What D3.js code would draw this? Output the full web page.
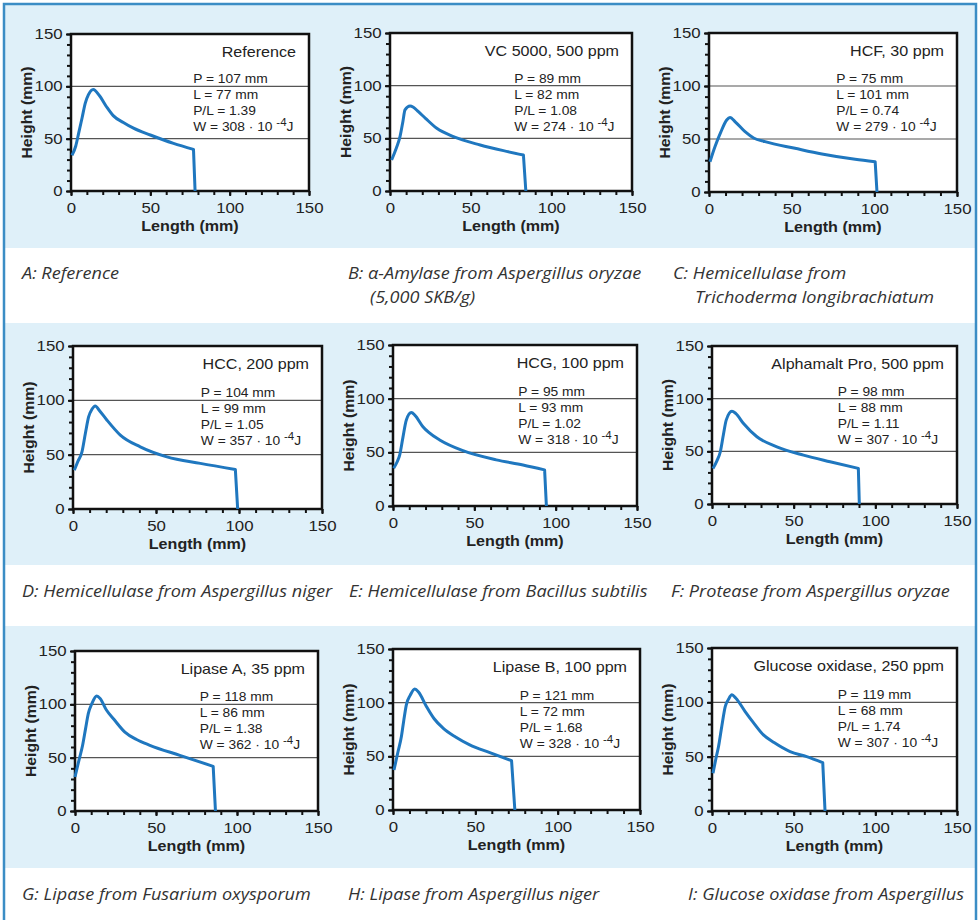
<!DOCTYPE html>
<html>
<head>
<meta charset="utf-8">
<script src="https://cdn.jsdelivr.net/npm/d3@7"></script>
<style>
  body { margin: 0; background: #fff; }
</style>
</head>
<body>
<div id="chart-area"></div>
<script>
// data
var panelLabels = ["Reference", "VC 5000, 500 ppm", "HCF, 30 ppm",
                   "HCC, 200 ppm", "HCG, 100 ppm", "Alphamalt Pro, 500 ppm",
                   "Lipase A, 35 ppm", "Lipase B, 100 ppm", "Glucose oxidase, 250 ppm"]
var captions = [
  ["A: Reference"],
  ["B: \u03B1-Amylase from Aspergillus oryzae", "(5,000 SKB/g)"],
  ["C: Hemicellulase from", "Trichoderma longibrachiatum"],
  ["D: Hemicellulase from Aspergillus niger"],
  ["E: Hemicellulase from Bacillus subtilis"],
  ["F: Protease from Aspergillus oryzae"],
  ["G: Lipase from Fusarium oxysporum"],
  ["H: Lipase from Aspergillus niger"],
  ["I: Glucose oxidase from Aspergillus"]
]
var statP  = [107, 89, 75, 104, 95, 98, 118, 121, 119]
var statL  = [77, 82, 101, 99, 93, 88, 86, 72, 68]
var statPL = ["1.39", "1.08", "0.74", "1.05", "1.02", "1.11", "1.38", "1.68", "1.74"]
var statW  = [308, 274, 279, 357, 318, 307, 362, 328, 307]

var xTicks = [0, 50, 100, 150]
var yTicks = [0, 50, 100, 150]
var gridValues = [50, 100]

// curves: [length mm, height mm]
var curveA = [[0.6,34],[3,43],[4.8,55],[7,70],[9,84],[11,92],[14,97],[18,91],[22.6,80],[26.6,72],[33,65.5],[39.4,60],[50,53.5],[64.6,45.5],[77.2,39.8],[78.2,0]]
var curveB = [[1,29.4],[4,41],[6.2,51.6],[8,66],[9.3,77],[12.4,80.7],[14.5,79.5],[17.6,75.3],[22,69],[29,59.5],[39.3,51.6],[55.9,43.7],[70.3,38.3],[82.7,34.2],[84.2,0]]
var curveC = [[0.6,28.6],[3.6,42.7],[7,56],[10.7,67.9],[12.7,70.4],[16,66],[21.8,56.9],[27,51],[33.9,47.5],[52,41.2],[68.3,35.8],[88.4,30.8],[100.5,28.6],[101.6,0]]
var curveD = [[0.8,35.8],[3,44],[5.4,52.6],[7.5,70],[9.4,84.8],[11.5,92],[13.4,94.9],[16,90.5],[20.5,81.7],[28.5,68],[40.5,57.2],[56.6,48],[76.7,42],[97.8,36.4],[99.2,0]]
var curveE = [[0.4,35.1],[2.5,41],[4.1,47.5],[6,63],[8.2,80.1],[11.3,87],[13.5,84.5],[18.4,73.9],[22,68.5],[28.7,61.5],[43,51.5],[63.5,43],[79.9,38.2],[93.2,33.6],[94.3,0]]
var curveF = [[0.6,33.8],[3,41],[5.1,49.6],[7,66],[8.7,79.6],[12.2,88.1],[14.5,86],[19.3,76.4],[27.5,63.8],[39.7,54.3],[56,46.4],[72.3,40.1],[89.6,33.8],[90.2,0]]
var curveG = [[0,31.9],[2.5,48],[4.7,61.6],[6.5,77],[8.2,91.3],[10.5,101],[13.4,107.8],[15.5,105.5],[19.5,94.4],[24,86],[30.8,74],[38,67],[46.2,61.6],[64.7,52.2],[85.3,41.9],[86.7,0]]
var curveH = [[0.6,37.3],[3,54],[5.1,68.4],[6.5,83],[8.1,98],[10.5,107],[13.2,112.7],[15.5,110],[20.3,96.5],[25,85],[30.4,76.3],[38,68],[46.6,60.7],[58.8,53.5],[72,46],[74,0]]
var curveI = [[0.6,34.8],[2.5,49],[4,59.3],[6,78],[8.1,96.1],[10,102.5],[12.2,106.9],[14.5,104],[20.3,91.5],[25,82],[31.5,70],[38,63],[47.8,54.7],[58,50],[67.8,44.5],[69.2,0]]
var curves = [curveA, curveB, curveC, curveD, curveE, curveF, curveG, curveH, curveI]

// layout: plot boxes [left, right, top, bottom] in px
var boxes = [
  [71, 309, 34, 191], [390, 632, 33, 191], [709, 957, 33, 192],
  [73, 322, 346, 509], [393, 637, 345, 506], [712, 957, 346, 504],
  [75, 318, 651, 811], [393, 640, 649, 810], [712, 957, 648, 811]
]
var captionX = [22, 348, 673, 22, 349, 671, 22, 348, 688]
var captionY = [279, 279, 279, 597, 597, 597, 900, 900, 900]
var bands = [[5, 248], [323, 565], [626, 868]]

var W = 979, H = 920
var FONT = "'Liberation Sans', Arial, sans-serif"
var BLUE = "#1f77bf"

var svg = d3.select("#chart-area")
  .append("svg")
    .attr("width", W)
    .attr("height", H)

// light blue bands
svg.selectAll(".band")
  .data(bands)
  .enter().append("rect")
    .attr("x", 5)
    .attr("y", function(d) { return d[0] })
    .attr("width", 970)
    .attr("height", function(d) { return d[1] - d[0] })
    .attr("fill", "#dff0f9")

// outer frame (top, left, right)
svg.append("path")
  .attr("d", "M4," + H + "V4H976V" + H)
  .attr("fill", "none")
  .attr("stroke", "#3b8dc5")
  .attr("stroke-width", 2.5)

function stretched(sel, x, y, sx, rot) {
  return sel.attr("transform", "translate(" + x + "," + y + ")" +
    (rot ? " rotate(" + rot + ")" : "") + " scale(" + sx + ",1)")
}

boxes.forEach(function(box, i) {
  var x = d3.scaleLinear().domain([0, 150]).range([box[0], box[1]])
  var y = d3.scaleLinear().domain([0, 150]).range([box[3], box[2]])
  var g = svg.append("g")

  // plot background
  g.append("rect")
    .attr("x", box[0]).attr("y", box[2])
    .attr("width", box[1] - box[0]).attr("height", box[3] - box[2])
    .attr("fill", "#fff")

  // gridlines
  g.selectAll(".grid")
    .data(gridValues)
    .enter().append("line")
      .attr("x1", box[0]).attr("x2", box[1])
      .attr("y1", function(d) { return y(d) })
      .attr("y2", function(d) { return y(d) })
      .attr("stroke", "#555")
      .attr("stroke-width", 1.1)

  // minor ticks every 10 mm
  var minor = d3.range(0, 151, 10)
  g.append("g")
    .attr("transform", "translate(0," + box[3] + ")")
    .call(d3.axisBottom(x).tickValues(minor).tickSize(4).tickFormat(""))
  g.append("g")
    .attr("transform", "translate(" + box[0] + ",0)")
    .call(d3.axisLeft(y).tickValues(minor).tickSize(4).tickFormat(""))

  // major axes
  g.append("g")
    .attr("transform", "translate(0," + box[3] + ")")
    .call(d3.axisBottom(x).tickValues(xTicks).tickSize(5).tickPadding(7))
  g.append("g")
    .attr("transform", "translate(" + box[0] + ",0)")
    .call(d3.axisLeft(y).tickValues(yTicks).tickSize(5).tickPadding(2))

  g.selectAll(".domain").remove()
  g.selectAll(".tick line").attr("stroke", "#111").attr("stroke-width", 2)
  g.selectAll(".tick text")
    .attr("font-family", FONT)
    .attr("font-size", 14)
    .attr("fill", "#222")
    .attr("transform", "scale(1.2,1)")

  // frame
  g.append("rect")
    .attr("x", box[0]).attr("y", box[2])
    .attr("width", box[1] - box[0]).attr("height", box[3] - box[2])
    .attr("fill", "none")
    .attr("stroke", "#111")
    .attr("stroke-width", 2.5)

  // curve
  var pts = curves[i]
  var smooth = d3.line()
    .x(function(d) { return x(d[0]) })
    .y(function(d) { return y(d[1]) })
    .curve(d3.curveMonotoneX)
  var last = pts[pts.length - 1]
  g.append("path")
    .attr("d", smooth(pts.slice(0, pts.length - 1)) + "L" + x(last[0]) + "," + y(last[1]))
    .attr("fill", "none")
    .attr("stroke", BLUE)
    .attr("stroke-width", 3)
    .attr("stroke-linejoin", "round")

  // axis titles
  stretched(g.append("text"), (box[0] + box[1]) / 2, box[3] + 40, 1.15)
    .attr("text-anchor", "middle")
    .attr("font-family", FONT)
    .attr("font-weight", "bold")
    .attr("font-size", 14)
    .attr("fill", "#222")
    .text("Length (mm)")
  stretched(g.append("text"), box[0] - 39, (box[2] + box[3]) / 2, 1.13, -90)
    .attr("text-anchor", "middle")
    .attr("font-family", FONT)
    .attr("font-weight", "bold")
    .attr("font-size", 14)
    .attr("fill", "#222")
    .text("Height (mm)")

  // panel label
  stretched(g.append("text"), box[1] - 13, box[2] + 23, 1.15)
    .attr("text-anchor", "end")
    .attr("font-family", FONT)
    .attr("font-size", 14)
    .attr("fill", "#222")
    .text(panelLabels[i])

  // stats
  var sx = x(77), sy = y(100) - 3
  var lines = ["P = " + statP[i] + " mm", "L = " + statL[i] + " mm", "P/L = " + statPL[i]]
  lines.forEach(function(t, k) {
    stretched(g.append("text"), sx, sy + k * 16, 1.15)
      .attr("font-family", FONT)
      .attr("font-size", 12)
      .attr("fill", "#222")
      .text(t)
  })
  var wt = stretched(g.append("text"), sx, sy + 3 * 16, 1.15)
    .attr("font-family", FONT)
    .attr("font-size", 12)
    .attr("fill", "#222")
  wt.append("tspan").text("W = " + statW[i] + " \u00B7 10 ")
  wt.append("tspan").attr("dy", -5).attr("font-size", 10).text("-4")
  wt.append("tspan").attr("dy", 5).text("J")

  // caption
  var cap = captions[i]
  cap.forEach(function(t, k) {
    stretched(g.append("text"), captionX[i] + (k > 0 ? 22 : 0), captionY[i] + k * 24, 1.13)
      .attr("font-family", "'Open Sans', sans-serif")
      .attr("font-style", "italic")
      .attr("font-size", 16)
      .attr("fill", "#333")
      .text(t)
  })
})
</script>
</body>
</html>
